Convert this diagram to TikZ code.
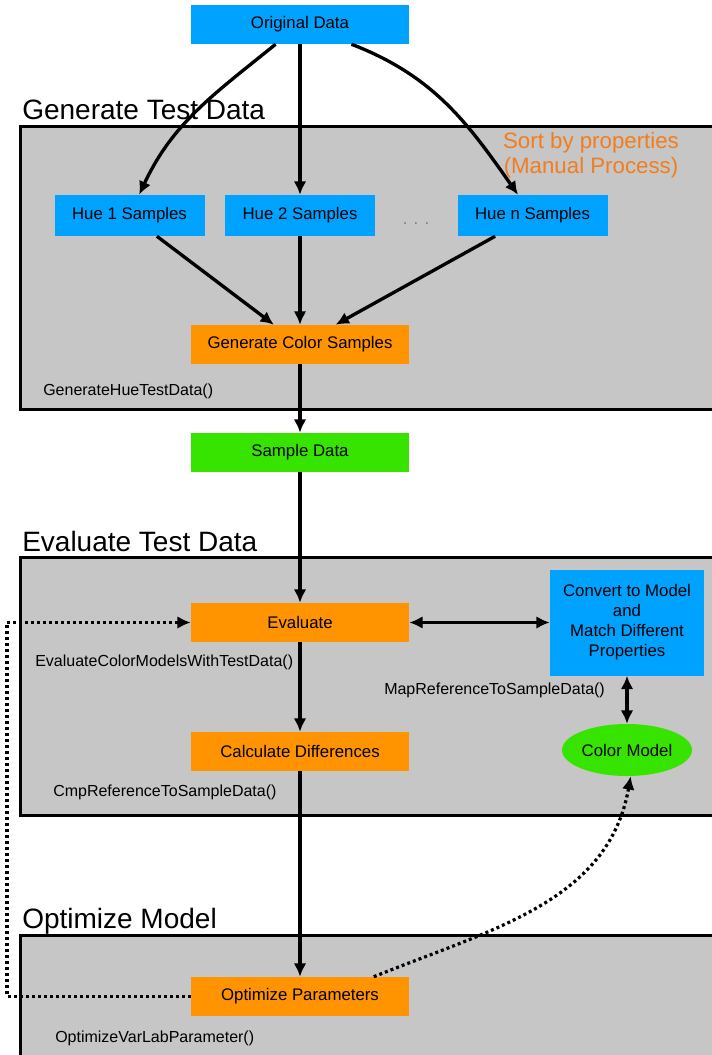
\documentclass[tikz,border=0pt]{standalone}
\usepackage{fontspec}
\setmainfont{Liberation Sans}
\usepackage{xcolor}
\usepackage{tikz}
\usetikzlibrary{positioning, arrows.meta, shapes.geometric}

\definecolor{hueblue}{RGB}{0,162,255}
\definecolor{procorange}{RGB}{255,147,0}
\definecolor{datagreen}{RGB}{54,228,0}
\definecolor{panelgray}{RGB}{198,198,198}
\definecolor{noteorange}{RGB}{242,125,30}

\begin{document}
\begin{tikzpicture}[x=0.75pt, y=-0.75pt, >={Latex[length=10pt, width=9.5pt]},
  blk/.style={minimum width=163.5pt, minimum height=29.25pt, inner sep=0pt,
              font=\fontsize{12.6}{15}\selectfont},
  proc/.style={blk, fill=procorange},
  hue/.style={blk, fill=hueblue, minimum width=112.5pt, minimum height=30.75pt},
  panel/.style={draw, line width=2.25pt, fill=panelgray},
  ttl/.style={anchor=base west, inner sep=0pt, font=\fontsize{21}{25}\selectfont},
  fn/.style={anchor=base west, inner sep=0pt, font=\fontsize{12}{14}\selectfont},
  flow/.style={->, line width=2.5pt},
  fback/.style={->, line width=2.4pt, dash pattern=on 2.25pt off 2.25pt}]
  \useasboundingbox (0,0) rectangle (712,1055);
  \clip (0,0) rectangle (712,1055);

  % the three stages
  \draw[panel] (20,127) rectangle (740,409);
  \draw[panel] (20,557) rectangle (740,815);
  \draw[panel] (20,935) rectangle (740,1080);
  \node[ttl] (gentitle) at (22,120) {Generate Test Data};
  \node[ttl] (evaltitle) at (22,551) {Evaluate Test Data};
  \node[ttl] (opttitle) at (22,928) {Optimize Model};

  % generate test data
  \node[blk, fill=hueblue] (orig) at (300,24.5) {Original Data};
  \node[hue] (hue1) at (129.5,215.5) {Hue 1 Samples};
  \node[hue] (hue2) at (300,215.5) {Hue 2 Samples};
  \node[hue] (huen) at (532.5,215.5) {Hue n Samples};
  \node[anchor=base, text=gray, font=\fontsize{12.6}{15}\selectfont] (hdots) at (416,225) {. . .};
  \node[align=center, text=noteorange, font=\fontsize{16.7}{18.75}\selectfont] (sortnote)
       at (591,155.5) {Sort by properties\\(Manual Process)};
  \node[proc] (gencol) at (300,344.5) {Generate Color Samples};
  \node[fn] (genfn) at (43,395) {GenerateHueTestData()};
  \node[blk, fill=datagreen] (sample) at (300,452.5) {Sample Data};

  % evaluate test data
  \node[proc] (eval) at (300,622.5) {Evaluate};
  \node[fn] (evalfn) at (35,666) {EvaluateColorModelsWithTestData()};
  \node[blk, fill=hueblue, minimum width=115.5pt, minimum height=79.5pt, align=center] (conv)
       at (627,622.5) {Convert to Model\\and\\Match Different\\Properties};
  \node[fn] (mapfn) at (384,694) {MapReferenceToSampleData()};
  \node[ellipse, fill=datagreen, minimum width=97.5pt, minimum height=39pt, inner sep=0pt,
        font=\fontsize{12.6}{15}\selectfont] (cmodel) at (627,750) {Color Model};
  \node[proc] (calc) at (300,751.5) {Calculate Differences};
  \node[fn] (calcfn) at (53,796) {CmpReferenceToSampleData()};

  % optimize model
  \node[proc] (optpar) at (300,996.5) {Optimize Parameters};
  \node[fn] (optfn) at (55,1042) {OptimizeVarLabParameter()};
  \coordinate (lb) at (7,996.5);
  \coordinate (lt) at (7,622.5);

  \draw[flow] (orig) to[out=-141, in=65] (hue1);
  \draw[flow] (orig) -- (hue2);
  \draw[flow] (orig) to[out=-21, in=125] (huen);
  \draw[flow] (hue1) -- (gencol);
  \draw[flow] (hue2) -- (gencol);
  \draw[flow] (huen) -- (gencol);
  \draw[flow] (gencol) -- (sample);
  \draw[flow] (sample) -- (eval);
  \draw[flow, <->] (eval) -- (conv);
  \draw[flow, <->] (conv) -- (cmodel);
  \draw[flow] (eval) -- (calc);
  \draw[flow] (calc) -- (optpar);
  \draw[fback] (optpar) -- (lb) -- (lt) -- (eval);
  \draw[fback] (optpar.15) to[out=22, in=-100] (cmodel.-82);
\end{tikzpicture}
\end{document}
